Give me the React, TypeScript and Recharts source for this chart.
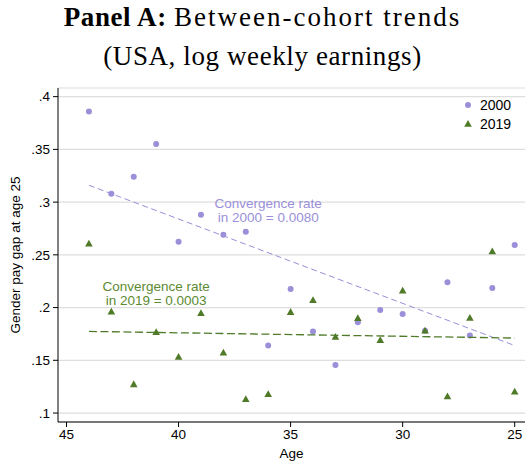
import { ScatterChart, Scatter, XAxis, YAxis, CartesianGrid, ReferenceDot } from 'recharts'

// cohorts
const ages = [44, 43, 42, 41, 40, 39, 38, 37, 36, 35, 34, 33, 32, 31, 30, 29, 28, 27, 26, 25]
const gap2000 = [0.386, 0.308, 0.324, 0.355, 0.2625, 0.288, 0.269, 0.272, 0.164, 0.2177, 0.1774, 0.1455, 0.186, 0.1977, 0.194, 0.178, 0.224, 0.1736, 0.2186, 0.2594]
const gap2019 = [0.2603, 0.1958, 0.127, 0.1765, 0.153, 0.1945, 0.157, 0.113, 0.1177, 0.1955, 0.2068, 0.172, 0.1898, 0.1689, 0.2158, 0.1778, 0.1155, 0.19, 0.253, 0.12]

// fitted lines (end points)
const fitAges = [44, 25]
const fit2000 = [0.316, 0.164]
const fit2019 = [0.1774, 0.1711]

const xTicks = [45, 40, 35, 30, 25]
const yTicks = [0.1, 0.15, 0.2, 0.25, 0.3, 0.35, 0.4]
const seriesNames = ['2000', '2019']

const PURPLE = '#9a8fd8'
const GREEN = '#4f7a28'
const SANS = '"Liberation Sans", Arial, sans-serif'
const SERIF = '"Liberation Serif", serif'

const pts = (ys: number[], xs: number[]) => xs.map((age, i) => ({ age, gap: ys[i] }))

function Circle({ cx, cy }: any) {
  return <circle cx={cx} cy={cy} r={3} fill={PURPLE} />
}

function Triangle({ cx, cy }: any) {
  return <polygon points={`${cx},${cy - 4.2} ${cx - 3.8},${cy + 2.6} ${cx + 3.8},${cy + 2.6}`} fill={GREEN} />
}

const noShape = () => <g />

function fmtY(v: number) {
  return String(v).replace(/^0/, '')
}

function note(lines: string[], color: string) {
  return ({ cx, cy }: any) => (
    <text x={cx} y={cy - 7} fill={color} fontSize={13.5} fontFamily={SANS} textAnchor="middle">
      {lines.map((l, i) => (
        <tspan key={i} x={cx} dy={i === 0 ? 0 : 14} dominantBaseline="central">{l}</tspan>
      ))}
    </text>
  )
}

function LegendBox() {
  return (
    <div style={{ position: 'absolute', left: 461, top: 96, fontFamily: SANS, fontSize: 14, color: '#000' }}>
      {seriesNames.map((n, i) => (
        <div key={n} style={{ display: 'flex', alignItems: 'center', height: 18.6 }}>
          <svg width={14} height={14}>
            {i === 0 ? <circle cx={7} cy={7} r={3} fill={PURPLE} /> : <polygon points="7,3 3.2,9.8 10.8,9.8" fill={GREEN} />}
          </svg>
          <span style={{ marginLeft: 5 }}>{n}</span>
        </div>
      ))}
    </div>
  )
}

export default function App() {
  const titleStyle = { position: 'absolute' as const, left: 0, width: 525, textAlign: 'center' as const, fontFamily: SERIF, fontSize: 27, lineHeight: '27px', letterSpacing: 0.6 }
  return (
    <div style={{ position: 'absolute', left: 0, top: 0, width: 525, height: 464, background: '#fff' }}>
      <div style={{ ...titleStyle, top: 4 }}>
        <b>Panel A:</b> <span style={{ letterSpacing: 2 }}>Between-cohort trends</span>
      </div>
      <div style={{ ...titleStyle, top: 43 }}>(USA, log weekly earnings)</div>
      <ScatterChart width={525} height={464} margin={{ top: 88, right: 0, left: 8, bottom: 6 }} style={{ position: 'absolute', left: 0, top: 0 }}>
        <CartesianGrid vertical={false} stroke="#dedede" strokeWidth={1.2} />
        <XAxis
          type="number"
          dataKey="age"
          domain={[24.54, 45.38]}
          reversed
          ticks={xTicks}
          allowDataOverflow
          height={36}
          tick={{ fill: '#000', fontSize: 13.5, fontFamily: SANS }}
          tickSize={5}
          stroke="#000"
          label={{ value: 'Age', position: 'insideBottom', offset: 0, fill: '#000', fontSize: 13.5, fontFamily: SANS }}
        />
        <YAxis
          type="number"
          dataKey="gap"
          domain={[0.0915, 0.4082]}
          ticks={yTicks}
          allowDataOverflow
          width={50}
          tickFormatter={fmtY}
          tick={{ fill: '#000', fontSize: 13.5, fontFamily: SANS }}
          tickSize={5}
          tickMargin={3}
          stroke="#000"
          label={({ viewBox }: any) => {
            const x = 15
            const y = viewBox.y + viewBox.height / 2
            return (
              <text x={x} y={y} transform={`rotate(-90 ${x} ${y})`} textAnchor="middle" dominantBaseline="central" fontSize={13.5} fontFamily={SANS} fill="#000">
                Gender pay gap at age 25
              </text>
            )
          }}
        />
        <Scatter name="2000" data={pts(gap2000, ages)} shape={Circle} isAnimationActive={false} />
        <Scatter name="2019" data={pts(gap2019, ages)} shape={Triangle} isAnimationActive={false} />
        <Scatter
          name="fit2000"
          data={pts(fit2000, fitAges)}
          line={{ stroke: PURPLE, strokeWidth: 1, strokeDasharray: '6 3.5' }}
          shape={noShape}
          isAnimationActive={false}
        />
        <Scatter
          name="fit2019"
          data={pts(fit2019, fitAges)}
          line={{ stroke: GREEN, strokeWidth: 1.3, strokeDasharray: '8 3.5' }}
          shape={noShape}
          isAnimationActive={false}
        />
        <ReferenceDot x={36} y={0.292} shape={note(['Convergence rate', 'in 2000 = 0.0080'], PURPLE)} />
        <ReferenceDot x={41} y={0.213} shape={note(['Convergence rate', 'in 2019 = 0.0003'], '#5c8a32')} />
      </ScatterChart>
      <LegendBox />
    </div>
  )
}
